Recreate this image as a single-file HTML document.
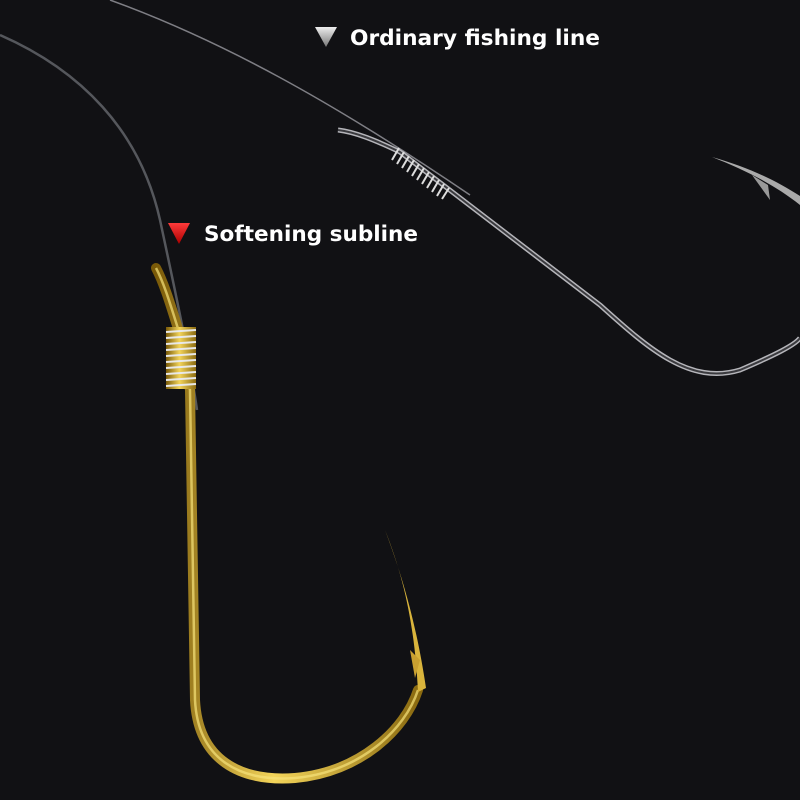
<!DOCTYPE html>
<html><head><style>
html,body{margin:0;padding:0;background:#111114;}
svg{display:block}
</style></head><body>
<svg width="800" height="800" viewBox="0 0 800 800" xmlns="http://www.w3.org/2000/svg">
<defs>
<linearGradient id="gold" x1="0" x2="1" y1="0" y2="0">
<stop offset="0" stop-color="#7a5a08"/><stop offset="0.45" stop-color="#f3d45a"/><stop offset="1" stop-color="#8a6a10"/>
</linearGradient>
<linearGradient id="red" x1="0" y1="0" x2="0" y2="1"><stop offset="0" stop-color="#ff3a3a"/><stop offset="1" stop-color="#a00"/></linearGradient>
<linearGradient id="grey" x1="0" y1="0" x2="0" y2="1"><stop offset="0" stop-color="#eee"/><stop offset="1" stop-color="#777"/></linearGradient>
</defs>
<rect width="800" height="800" fill="#111114"/>
<!-- ordinary line -->
<path d="M110 0 C220 40 330 100 470 195" stroke="#9a9aa0" stroke-width="1.5" fill="none" opacity="0.8"/>
<!-- silver hook -->
<path d="M338 130 C355 132 375 140 400 152 L600 305 C650 350 690 385 740 370 C775 355 795 345 800 338" stroke="#b5b5ba" stroke-width="5" fill="none"/>
<path d="M338 130 C355 132 375 140 400 152 L600 305 C650 350 690 385 740 370 C775 355 795 345 800 338" stroke="#3a3a3e" stroke-width="2" fill="none"/>
<path d="M712 157 C745 170 775 185 800 205 L800 196 C775 180 750 168 712 157 Z" fill="#aaa"/>
<path d="M752 175 L770 200 L768 185 Z" fill="#999"/>
<g stroke="#ddd" stroke-width="2">
<line x1="399" y1="148" x2="392" y2="160"/><line x1="404" y1="152" x2="397" y2="164"/><line x1="409" y1="156" x2="402" y2="168"/><line x1="414" y1="160" x2="407" y2="172"/><line x1="419" y1="164" x2="412" y2="176"/><line x1="424" y1="168" x2="417" y2="180"/><line x1="429" y1="172" x2="422" y2="184"/><line x1="434" y1="176" x2="427" y2="188"/><line x1="439" y1="180" x2="432" y2="192"/><line x1="444" y1="184" x2="437" y2="196"/><line x1="449" y1="188" x2="442" y2="199"/>
</g>
<!-- subline -->
<path d="M0 35 C80 70 140 130 160 220 C175 290 190 360 197 410" stroke="#55575c" stroke-width="2.5" fill="none"/>
<!-- gold hook -->
<path d="M156 268 C165 285 172 310 180 335 L190 390 L195 700 C198 760 240 782 295 778 C360 772 405 730 418 690" stroke="url(#gold)" stroke-width="10" fill="none" stroke-linecap="round"/>
<path d="M156 268 C165 285 172 310 180 335 L190 390 L195 700 C198 760 240 782 295 778 C360 772 405 730 418 690" stroke="#f7e27a" stroke-width="2.5" fill="none" opacity="0.7"/>
<path d="M418 692 C415 630 405 580 385 530 C400 570 416 620 426 688 Z" fill="#d9b43c"/>
<path d="M410 650 L415 678 L420 660 Z" fill="#c9a030"/>
<rect x="166" y="327" width="30" height="62" fill="url(#gold)"/>
<g stroke="#e8e8e8" stroke-width="2">
<line x1="166" y1="332" x2="196" y2="330"/><line x1="166" y1="338" x2="196" y2="336"/><line x1="166" y1="344" x2="196" y2="342"/><line x1="166" y1="350" x2="196" y2="348"/><line x1="166" y1="356" x2="196" y2="354"/><line x1="166" y1="362" x2="196" y2="360"/><line x1="166" y1="368" x2="196" y2="366"/><line x1="166" y1="374" x2="196" y2="372"/><line x1="166" y1="380" x2="196" y2="378"/><line x1="166" y1="386" x2="196" y2="384"/>
</g>
<!-- labels -->
<polygon points="315,27 337,27 326,47" fill="url(#grey)"/>
<text x="350" y="45" font-family="DejaVu Sans, sans-serif" font-weight="bold" font-size="21" fill="#fff" textLength="250" lengthAdjust="spacingAndGlyphs">Ordinary fishing line</text>
<polygon points="168,223 190,223 179,244" fill="url(#red)"/>
<text x="204" y="241" font-family="DejaVu Sans, sans-serif" font-weight="bold" font-size="21" fill="#fff" textLength="214" lengthAdjust="spacingAndGlyphs">Softening subline</text>
</svg>
</body></html>
